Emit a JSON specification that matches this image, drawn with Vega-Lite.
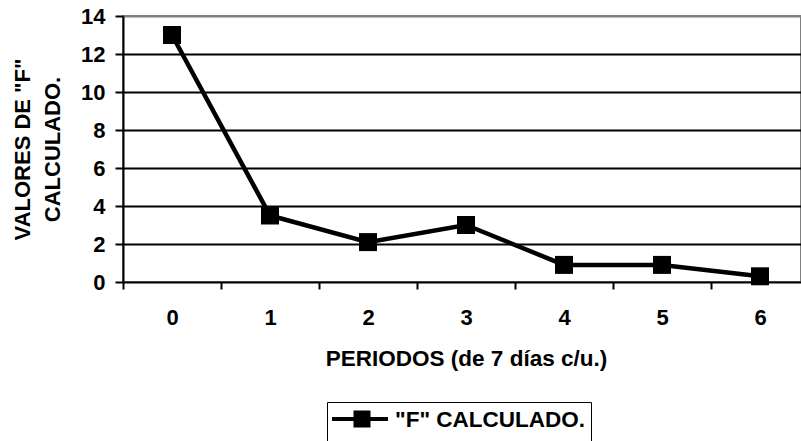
{
  "$schema": "https://vega.github.io/schema/vega-lite/v6.json",
  "width": 678,
  "height": 266,
  "autosize": {"type": "none"},
  "padding": {"left": 123, "top": 16, "right": 0, "bottom": 159},
  "background": "white",
  "config": {
    "font": "Liberation Sans",
    "view": {"stroke": "#808080", "strokeWidth": 2}
  },
  "data": {
    "values": [
      {"periodo": "0", "f": 13.0, "serie": "\"F\" CALCULADO."},
      {"periodo": "1", "f": 3.5, "serie": "\"F\" CALCULADO."},
      {"periodo": "2", "f": 2.1, "serie": "\"F\" CALCULADO."},
      {"periodo": "3", "f": 3.0, "serie": "\"F\" CALCULADO."},
      {"periodo": "4", "f": 0.9, "serie": "\"F\" CALCULADO."},
      {"periodo": "5", "f": 0.9, "serie": "\"F\" CALCULADO."},
      {"periodo": "6", "f": 0.3, "serie": "\"F\" CALCULADO."}
    ]
  },
  "encoding": {
    "x": {
      "field": "periodo",
      "type": "ordinal",
      "bandPosition": 0.5,
      "scale": {"type": "band", "range": [0, 686], "paddingInner": 0, "paddingOuter": 0},
      "axis": {
        "title": "PERIODOS (de 7 días c/u.)",
        "labelAngle": 0,
        "grid": false,
        "domain": false,
        "tickBand": "extent",
        "tickSize": 7,
        "tickWidth": 2,
        "tickColor": "black",
        "labelPadding": 18,
        "labelFont": "Liberation Sans",
        "labelFontSize": 22,
        "labelFontWeight": "bold",
        "labelColor": "black",
        "titleFont": "Liberation Sans",
        "titleFontSize": 22.5,
        "titleFontWeight": "bold",
        "titleColor": "black",
        "titlePadding": 19
      }
    },
    "y": {
      "field": "f",
      "type": "quantitative",
      "scale": {"domain": [0, 14], "nice": false},
      "axis": {
        "title": ["VALORES DE \"F\"", "CALCULADO."],
        "values": [0, 2, 4, 6, 8, 10, 12, 14],
        "grid": true,
        "gridColor": {"condition": {"test": "datum.value == 14", "value": "#808080"}, "value": "black"},
        "gridWidth": 2,
        "gridOpacity": 1,
        "domain": true,
        "domainColor": "black",
        "domainWidth": 2,
        "tickSize": 8,
        "tickWidth": 2,
        "tickColor": "black",
        "labelPadding": 10,
        "labelFont": "Liberation Sans",
        "labelFontSize": 22,
        "labelFontWeight": "bold",
        "labelColor": "black",
        "titleFont": "Liberation Sans",
        "titleFontSize": 22,
        "titleFontWeight": "bold",
        "titleColor": "black",
        "titleLineHeight": 30,
        "titlePadding": 16.5
      }
    },
    "color": {
      "field": "serie",
      "type": "nominal",
      "scale": {"range": ["black"]},
      "legend": {
        "title": null,
        "orient": "none",
        "legendX": 204,
        "legendY": 386,
        "strokeColor": "black",
        "fillColor": "white",
        "padding": 5,
        "symbolType": "M-1,-0.5H1.8V-0.3H-1Z M0.075,-0.825H0.925V0.025H0.075Z M0,1.5",
        "symbolSize": 1600,
        "symbolFillColor": "black",
        "symbolStrokeWidth": 0,
        "labelFont": "Liberation Sans",
        "labelFontSize": 22.5,
        "labelFontWeight": "bold",
        "labelColor": "black",
        "labelBaseline": "alphabetic",
        "labelOffset": 23,
        "labelLimit": 400
      }
    }
  },
  "layer": [
    {"mark": {"type": "line", "strokeWidth": 4.5, "clip": false}},
    {"mark": {"type": "point", "shape": "square", "filled": true, "size": 324, "opacity": 1, "clip": false}}
  ]
}
